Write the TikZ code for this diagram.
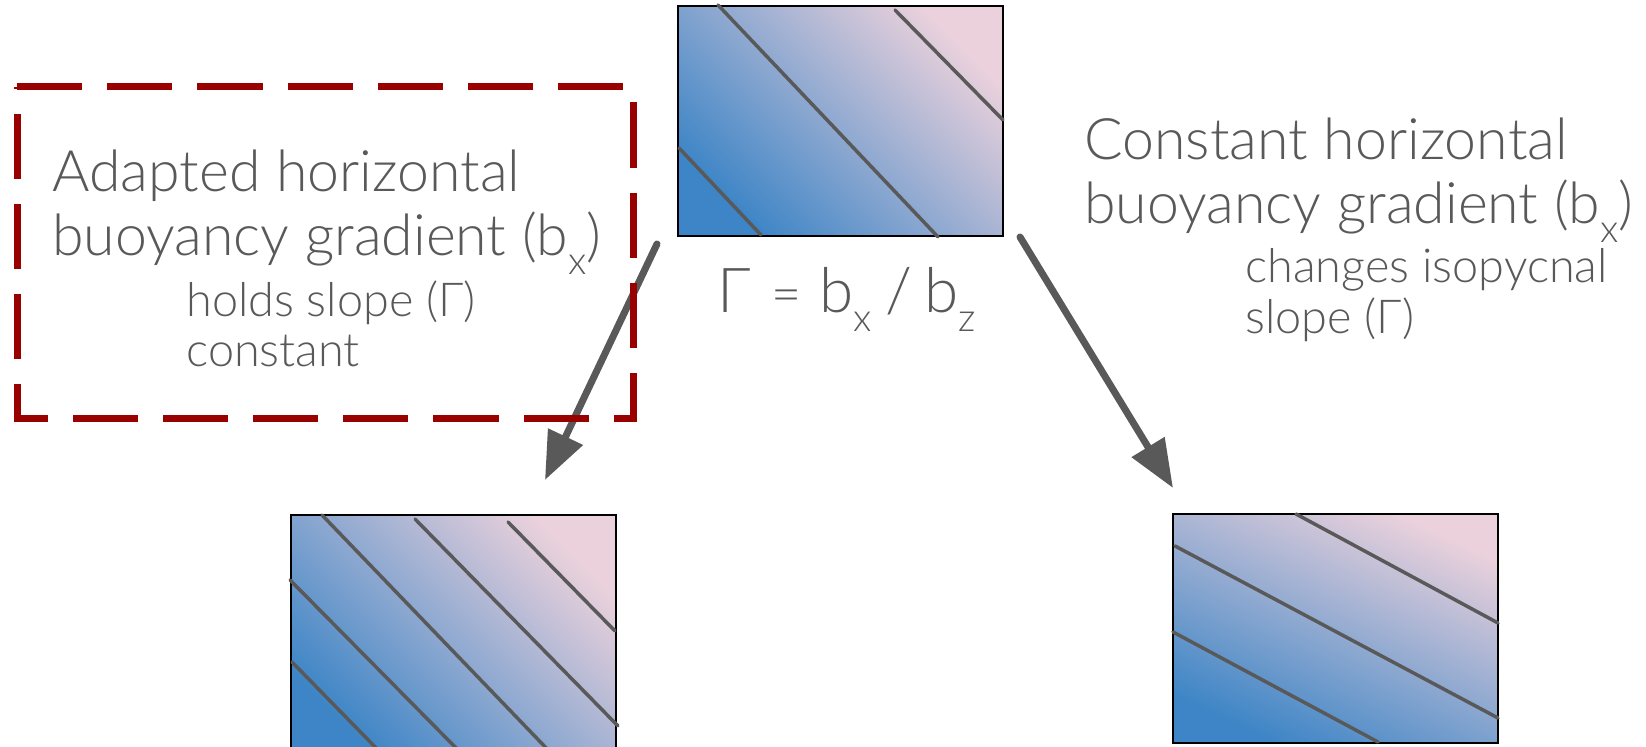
\documentclass[tikz,border=0pt]{standalone}
\usepackage{fontspec}
\setmainfont{Lato}[UprightFont=* Light]
\usepackage{tkz-euclide}
\usetikzlibrary{arrows.meta}

\definecolor{slidegray}{HTML}{595959}
\definecolor{deepblue}{HTML}{3D85C6}
\definecolor{palepink}{HTML}{EAD1DC}
\definecolor{darkred}{HTML}{990000}

\newcommand{\lowsub}[1]{\raisebox{-9.5pt}{\fontsize{19.5}{19.5}\selectfont #1}}

\begin{document}
\begin{tikzpicture}[x=.5pt,y=.5pt,
  panel/.style={draw=black,line width=1pt,bottom color=deepblue,top color=palepink,shading angle=#1},
  bigarrow/.style={line width=3.5pt,color=slidegray,-{Triangle[length=24pt,width=18.5pt]}},
  bigtext/.style={anchor=base west,inner sep=0pt,text=slidegray,font=\fontsize{28.6}{34}\selectfont},
  smalltext/.style={anchor=base west,inner sep=0pt,text=slidegray,font=\fontsize{23.4}{28}\selectfont}]
\useasboundingbox (0,0) rectangle (1646,747);
\tkzSetUpLine[line width=1.75pt,color=slidegray]

% panels
\tkzDefPoints{678/511/TopA,1003/741/TopB}
\tkzDefPoints{291/-10/LowA,616/232/LowB}
\tkzDefPoints{1173/4/RgtA,1498/233/RgtB}

\draw[panel=-45] (TopA) rectangle (TopB);
\draw[panel=-45] (LowA) rectangle (LowB);
\draw[panel=-25] (RgtA) rectangle (RgtB);

% isopycnals
\tkzDefPoints{718/742/T1,938/510/T2,679/599/T3,761/512/T4,895/737/T5,1003/627/T6}
\tkzDrawSegments(T1,T2 T3,T4 T5,T6)

\tkzDefPoints{292/85/L1,380/-5/L2,290/167/L3,460/-5/L4,322/232/L5,550/-5/L6}
\tkzDefPoints{415/228/L7,618/21/L8,508/225/L9,615/116/L10}
\tkzDrawSegments(L1,L2 L3,L4 L5,L6 L7,L8 L9,L10)

\tkzDefPoints{1296/233/R1,1498/124/R2,1175/201/R3,1498/29/R4,1173/115/R5,1378/5/R6}
\tkzDrawSegments(R1,R2 R3,R4 R5,R6)

% arrows
\tkzDefPoints{657/503/AL,545/267/BL,1020/510/AR,1173/259/BR}
\tkzDrawSegments[bigarrow](AL,BL AR,BR)

% dashed frame, clockwise from top left
\tkzDefPoints{17/660/FrA,633/328/FrB}
\draw[darkred,line width=3.5pt,dash pattern=on 32.6pt off 12.5pt]
  (FrA) -| (FrB) -| (FrA) -- cycle;

% texts
\node[bigtext] (adapt1) at (52,555) {Adapted horizontal};
\node[bigtext] (adapt2) at (52,491) {buoyancy gradient (b\lowsub{x})};
\node[smalltext] (hold1) at (186,430) {holds slope (Γ)};
\node[smalltext] (hold2) at (186,380) {constant};

\node[bigtext] (const1) at (1084,587) {Constant horizontal};
\node[bigtext] (const2) at (1084,523) {buoyancy gradient (b\lowsub{x})};
\node[smalltext] (change1) at (1245,464) {changes isopycnal};
\node[smalltext] (change2) at (1245,413) {slope (Γ)};

\node[bigtext,font=\fontsize{31}{36}\selectfont] (ratio) at (717,434)
  {Γ\hspace{10pt}{\fontsize{26}{26}\selectfont=}\hspace{9pt}b\lowsub{x}\hspace{7pt}/\hspace{6pt}b\lowsub{z}};

\end{tikzpicture}
\end{document}
